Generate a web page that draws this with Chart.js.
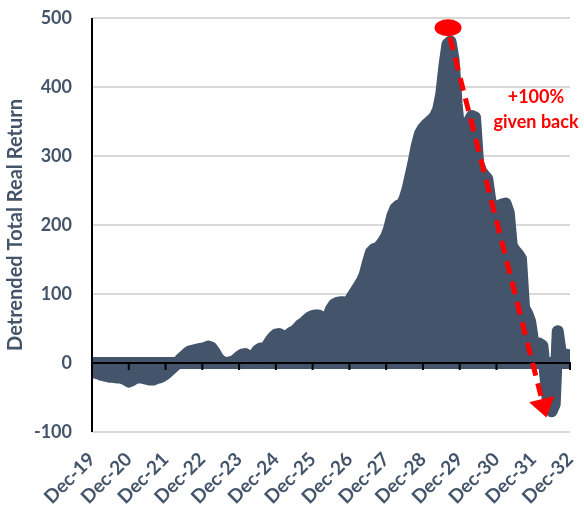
<!DOCTYPE html>
<html><head><meta charset="utf-8">
<script src="https://cdn.jsdelivr.net/npm/chart.js@4.4.0/dist/chart.umd.min.js"></script>
<style>html,body{margin:0;padding:0;background:#fff}canvas{display:block}</style>
</head><body>
<canvas id="c" width="584" height="506"></canvas>
<script>
// ---- data ----
const TICK_LABELS = ['Dec-19','Dec-20','Dec-21','Dec-22','Dec-23','Dec-24','Dec-25','Dec-26','Dec-27','Dec-28','Dec-29','Dec-30','Dec-31','Dec-32'];
const MONTHS_PER_TICK = 12;
// monthly detrended total real return, Dec-19 .. Dec-32
const VALUES = [
  -12,-14,-15,-17,-18,-19,-20,-20,-21,-21,
  -22,-24,-27,-25,-22,-21,-21,-22,-23,-24,
  -24,-22,-21,-19,-16,-12,-8,-4,0,6,
  10,14,17,18,19,20,21,22,24,22,
  16,8,3,1,0,1,2,5,9,12,
  13,10,8,12,18,21,21,24,31,37,
  41,42,40,38,40,44,46,50,55,58,
  62,66,68,69,69,66,61,66,78,85,
  87,88,88,87,90,97,104,111,118,128,
  145,160,165,166,170,176,183,195,213,224,
  228,229,238,252,272,292,315,332,340,345,
  349,353,358,368,390,430,462,466,440,375,
  330,312,335,350,358,356,290,278,272,267,
  235,226,225,228,230,231,218,170,163,158,
  151,80,72,60,30,29,28,25,-20,-65,
  -70,-60,46,14,12,12,8
];
const Y_TICKS = [-100,0,100,200,300,400,500];
const Y_TITLE = 'Detrended Total Real Return';
const NOTE_LINES = ['+100%','given back'];
// annotation anchors in data coordinates (month index, value)
const PEAK_MARK = {x:116.2, y:486};
const ARROW_FROM = {x:116.8, y:472};
const ARROW_TO = {x:148.3, y:-79};
const NOTE_POS = {x:144.9, y:385};

// ---- style ----
const AREA = '#44546A';
const TEXT = '#44546A';
const RED = '#FF0000';
const FONT = 'Lato, "Open Sans", sans-serif';
const PAD = {left:2, right:14, top:18, bottom:0};
const AREA_BOX = {left:92, bottom:432};

const overlay = {
  id:'overlay',
  beforeDatasetsDraw(chart){
    const {ctx, chartArea:a, scales:{y}} = chart;
    const y0 = y.getPixelForValue(0);
    ctx.save();
    ctx.fillStyle = AREA;
    ctx.fillRect(a.left, y0-6, a.right-a.left, 12);
    ctx.restore();
  },
  afterDatasetsDraw(chart){
    const {ctx, chartArea:a, scales:{x,y}} = chart;
    const y0 = y.getPixelForValue(0);
    ctx.save();
    ctx.strokeStyle = '#000'; ctx.lineWidth = 2; ctx.lineCap='butt';
    ctx.beginPath();
    ctx.moveTo(a.left, y0); ctx.lineTo(a.right+1, y0);
    ctx.moveTo(a.left, a.top); ctx.lineTo(a.left, a.bottom);
    for (let i=1;i<TICK_LABELS.length;i++){
      const px = x.getPixelForValue(i*MONTHS_PER_TICK);
      ctx.moveTo(px, y0); ctx.lineTo(px, y0+7);
    }
    ctx.stroke();

    // arrow
    const p1 = {x:x.getPixelForValue(ARROW_FROM.x), y:y.getPixelForValue(ARROW_FROM.y)};
    const p2 = {x:x.getPixelForValue(ARROW_TO.x), y:y.getPixelForValue(ARROW_TO.y)};
    const dx=p2.x-p1.x, dy=p2.y-p1.y, L=Math.hypot(dx,dy);
    const ux=dx/L, uy=dy/L, px=-uy, py=ux;
    const head=19, hw=13;
    const bx=p2.x-ux*head, by=p2.y-uy*head;
    ctx.strokeStyle=RED; ctx.lineWidth=5; ctx.setLineDash([13,8]);
    ctx.beginPath(); ctx.moveTo(p1.x,p1.y); ctx.lineTo(bx,by); ctx.stroke();
    ctx.setLineDash([]);
    ctx.fillStyle=RED;
    ctx.beginPath(); ctx.moveTo(p2.x,p2.y); ctx.lineTo(bx+px*hw,by+py*hw); ctx.lineTo(bx-px*hw,by-py*hw); ctx.closePath(); ctx.fill();

    // peak ellipse
    ctx.beginPath();
    ctx.ellipse(x.getPixelForValue(PEAK_MARK.x), y.getPixelForValue(PEAK_MARK.y), 13.5, 8.5, 0, 0, Math.PI*2);
    ctx.fill();

    // note
    ctx.font = 'bold 18px ' + FONT;
    ctx.textAlign='center'; ctx.textBaseline='middle';
    const nx = x.getPixelForValue(NOTE_POS.x), ny = y.getPixelForValue(NOTE_POS.y);
    NOTE_LINES.forEach((t,i)=>ctx.fillText(t, nx, ny + i*25));
    ctx.restore();
  }
};

new Chart(document.getElementById('c'), {
  type:'line',
  data:{
    datasets:[{
      data: VALUES.map((v,i)=>({x:i, y:v})),
      backgroundColor: AREA,
      borderColor: AREA,
      borderWidth: 12,
      borderJoinStyle: 'round',
      borderCapStyle: 'round',
      fill: 'origin',
      tension: 0,
      pointRadius: 0,
      clip: 0
    }]
  },
  options:{
    responsive:false,
    devicePixelRatio:1,
    animation:false,
    events:[],
    layout:{padding:PAD},
    plugins:{legend:{display:false}, tooltip:{enabled:false}},
    scales:{
      x:{
        type:'linear',
        min:0, max:VALUES.length-1,
        afterBuildTicks(s){ s.ticks = TICK_LABELS.map((_,i)=>({value:i*MONTHS_PER_TICK})); },
        afterFit(s){ s.height = 506 - AREA_BOX.bottom - PAD.bottom; s.paddingLeft = 0; s.paddingRight = 0; },
        grid:{display:false, drawTicks:false},
        border:{display:false},
        ticks:{
          autoSkip:false, minRotation:45, maxRotation:45, padding:16,
          color:TEXT, font:{family:FONT, size:19, weight:'bold'},
          callback:(v)=>TICK_LABELS[Math.round(v/MONTHS_PER_TICK)]
        }
      },
      y:{
        min:-100, max:500,
        afterBuildTicks(s){ s.ticks = Y_TICKS.map(v=>({value:v})); },
        afterFit(s){ s.width = AREA_BOX.left - PAD.left; s.paddingTop = 0; s.paddingBottom = 0; },
        grid:{color:(c)=>c.tick && c.tick.value===0 ? 'rgba(0,0,0,0)' : '#D9D9D9', lineWidth:2, drawTicks:false},
        border:{display:false},
        ticks:{padding:20, color:TEXT, font:{family:FONT, size:18, weight:'bold'}},
        title:{display:true, text:Y_TITLE, color:TEXT, font:{family:FONT, size:20, weight:'bold'}, padding:{top:2,bottom:0}}
      }
    }
  },
  plugins:[overlay]
});
</script>
</body></html>
